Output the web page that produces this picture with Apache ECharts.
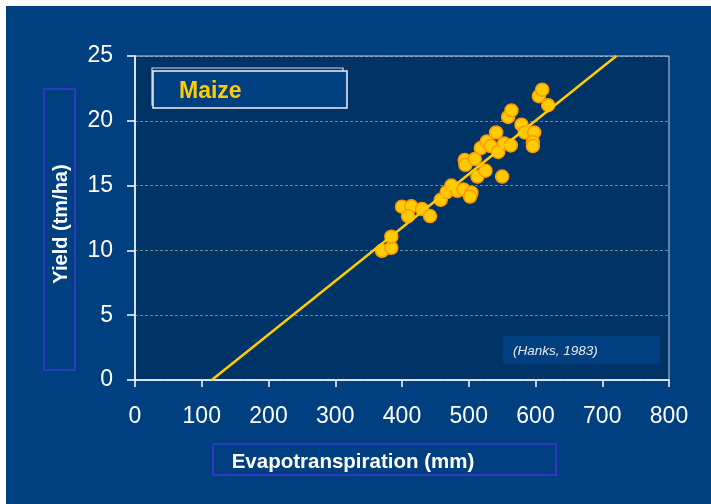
<!DOCTYPE html>
<html>
<head>
<meta charset="utf-8">
<title>Maize yield vs evapotranspiration</title>
<script src="https://cdn.jsdelivr.net/npm/echarts@6/dist/echarts.min.js"></script>
<style>
  html, body { margin: 0; padding: 0; background: #fff; }
  #chart { position: absolute; left: 6px; top: 6px; width: 705px; height: 498px; background: #004080; }
</style>
</head>
<body>
<div id="chart"></div>
<script>
// measured points (ET in mm, yield in tm/ha)
const etValues = [370, 384, 384, 400, 414, 409, 430, 442, 458, 467, 474, 483, 492, 504, 502,
  494, 495, 509, 513, 525, 550, 518, 527, 533, 541, 544, 553, 563, 559, 564,
  579, 584, 598, 596, 596, 605, 610, 619]
const yieldValues = [9.97, 10.2, 11.06, 13.37, 13.4, 12.65, 13.2, 12.65, 13.9, 14.5, 15.0, 14.6, 14.7, 14.45, 14.15,
  16.97, 16.6, 17.05, 15.7, 16.15, 15.7, 17.9, 18.4, 18.05, 19.1, 17.6, 18.25, 18.1, 20.3, 20.8,
  19.7, 19.1, 19.1, 18.35, 18.05, 21.9, 22.4, 21.2]

// regression line end points
const fitEt = [115, 721]
const fitYield = [0, 25]

const xTicks = { min: 0, max: 800, interval: 100 }
const yTicks = { min: 0, max: 25, interval: 5 }

const chart = echarts.init(document.getElementById('chart'))

const points = etValues.map((x, i) => [x, yieldValues[i]])
const fit = fitEt.map((x, i) => [x, fitYield[i]])

const sans = "'Liberation Sans', Arial, sans-serif"

chart.setOption({
  animation: false,
  grid: {
    left: 129,
    top: 50,
    width: 534,
    height: 324,
    show: true,
    backgroundColor: '#003366',
    borderColor: '#c8ccd4',
    borderWidth: 1,
  },
  xAxis: {
    type: 'value',
    min: xTicks.min,
    max: xTicks.max,
    interval: xTicks.interval,
    axisLine: { show: true, onZero: false, lineStyle: { color: '#fff', width: 1.5 } },
    axisTick: { show: true, length: 7, lineStyle: { color: '#fff', width: 1.5 } },
    axisLabel: { color: '#fff', fontSize: 23, margin: 25, fontFamily: 'Liberation Sans' },
    splitLine: { show: false },
  },
  yAxis: {
    type: 'value',
    min: yTicks.min,
    max: yTicks.max,
    interval: yTicks.interval,
    axisLine: { show: true, onZero: false, lineStyle: { color: '#fff', width: 1.5 } },
    axisTick: { show: true, length: 8, lineStyle: { color: '#fff', width: 1.5 } },
    axisLabel: { color: '#fff', fontSize: 23, margin: 22, fontFamily: 'Liberation Sans' },
    splitLine: {
      show: true,
      lineStyle: { color: 'rgba(190,200,215,0.55)', type: [3, 2], width: 1 },
    },
  },
  graphic: [
    // y title box
    {
      type: 'rect',
      shape: { x: 38, y: 83, width: 31, height: 281 },
      style: { fill: 'none', stroke: '#3a3ad0', lineWidth: 1.5 },
    },
    {
      type: 'text',
      x: 55,
      y: 218,
      rotation: Math.PI / 2,
      style: {
        text: 'Yield (tm/ha)',
        fill: '#fff',
        font: 'bold 20px ' + sans,
        textAlign: 'center',
        textVerticalAlign: 'middle',
      },
    },
    // x title box
    {
      type: 'rect',
      shape: { x: 207, y: 438, width: 343, height: 31 },
      style: { fill: 'none', stroke: '#3a3ad0', lineWidth: 1.5 },
    },
    {
      type: 'text',
      x: 347,
      y: 456,
      style: {
        text: 'Evapotranspiration (mm)',
        fill: '#fff',
        font: 'bold 20.5px ' + sans,
        textAlign: 'center',
        textVerticalAlign: 'middle',
      },
    },
    // Maize label box
    {
      type: 'rect',
      shape: { x: 146, y: 62, width: 191, height: 37 },
      style: { fill: 'none', stroke: '#d8dce4', lineWidth: 1.2 },
    },
    {
      type: 'rect',
      shape: { x: 147, y: 65, width: 194, height: 37 },
      style: { fill: '#004080', stroke: '#eef0f4', lineWidth: 1.5 },
    },
    {
      type: 'text',
      x: 173,
      y: 86,
      style: {
        text: 'Maize',
        fill: '#ffcc00',
        font: 'bold 23px ' + sans,
        textAlign: 'left',
        textVerticalAlign: 'middle',
      },
    },
    // citation
    {
      type: 'rect',
      shape: { x: 497, y: 330, width: 157, height: 28 },
      style: { fill: '#004080' },
    },
    {
      type: 'text',
      x: 507,
      y: 345,
      style: {
        text: '(Hanks, 1983)',
        fill: '#e6e8ee',
        font: 'italic 13.5px ' + sans,
        textAlign: 'left',
        textVerticalAlign: 'middle',
      },
    },
  ],
  series: [
    {
      name: 'Measured',
      type: 'scatter',
      data: points,
      symbol: 'circle',
      symbolSize: 13,
      itemStyle: { color: '#ffcc00', borderColor: '#ff9900', borderWidth: 1.5, opacity: 1 },
      z: 2,
    },
    {
      name: 'Fit',
      type: 'line',
      data: fit,
      symbol: 'none',
      lineStyle: { color: '#ffcc00', width: 2.5 },
      z: 3,
    },
  ],
})
</script>
</body>
</html>
